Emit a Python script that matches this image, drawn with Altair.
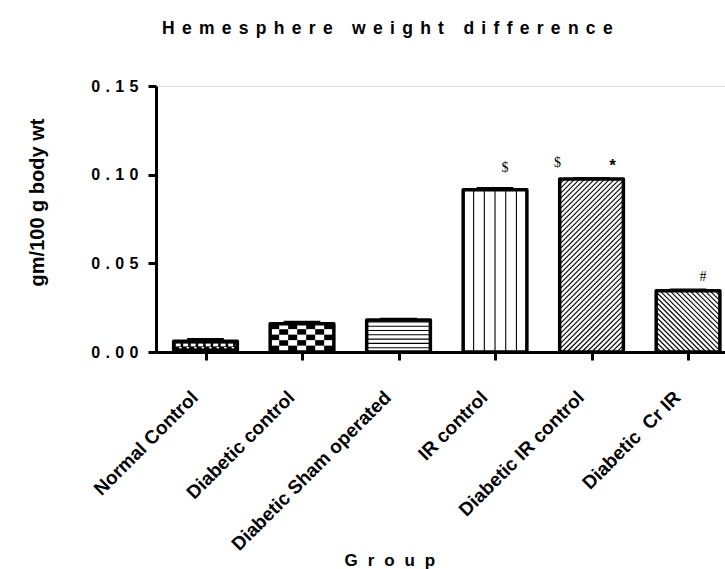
import json
import altair as alt
import pandas as pd

# ---------------- data ----------------
groups = ["Normal Control", "Diabetic control", "Diabetic Sham operated",
          "IR control", "Diabetic IR control", "Diabetic\u00a0 Cr IR"]
means = [0.006, 0.016, 0.018, 0.0915, 0.0975, 0.0345]
sems = [0.0010, 0.0008, 0.0005, 0.0007, 0.0003, 0.0004]
patterns = ["fine_check", "check", "hlines", "vlines", "fdiag", "bdiag"]

sig_symbols = ["$", "$", "*", "#"]
sig_groups = [3, 4, 4, 5]

y_ticks = [0.0, 0.05, 0.10, 0.15]
y_tick_text = ["0.00", "0.05", "0.10", "0.15"]

chart_title = "Hemesphere weight difference"
x_title = "Group"
y_title = "gm/100 g body wt"

# ---------------- layout ----------------
PLOT_W, PLOT_H = 569, 266
X_LO, X_HI = -0.513, 5.383
Y_HI = 0.15
PX_X = PLOT_W / (X_HI - X_LO)      # pixels per group slot
PX_Y = PLOT_H / Y_HI               # pixels per unit of y
HALF = 0.33                        # half bar width, in group slots
CAP = 0.19                         # half error-cap width
FONT = "Liberation Sans"
EN = "\u2002"
QUARTER = "\u2005"
SIXTH = "\u2006"
HAIR = "\u200a"

# annotation offsets (pixels) relative to the top of the bar they flag
sig_offsets = [(10, 22), (-34, 16), (21, 13), (15, 14)]


def spaced(text, gap):
    return gap.join(list(text))


# ---------------- bar fill textures ----------------
def bar_texture(i, kind, top):
    """Line segments and small rects that fill bar i, in data units."""
    segs, cells = [], []
    wb = 2 * HALF * PX_X
    t = top * PX_Y
    x0 = i - HALF

    def seg(u1, v1, u2, v2):
        segs.append({"x": x0 + u1 / PX_X, "x2": x0 + u2 / PX_X,
                     "y": v1 / PX_Y, "y2": v2 / PX_Y})

    def cell(u1, v1, u2, v2, fill):
        u1, u2 = max(0, u1), min(wb, u2)
        v1, v2 = max(0, v1), min(t, v2)
        if u2 > u1 and v2 > v1:
            cells.append({"x": x0 + u1 / PX_X, "x2": x0 + u2 / PX_X,
                          "y": v1 / PX_Y, "y2": v2 / PX_Y, "fill": fill})

    if kind == "vlines":
        for k in range(-2, 3):
            u = wb / 2 + k * 10.7
            seg(u, 0, u, t)
    elif kind == "hlines":
        v = 4.3
        while v < t - 1:
            seg(0, v, wb, v)
            v += 4.3
    elif kind == "fdiag":
        c = -t
        while c < wb:
            u1, u2 = max(0, c), min(wb, c + t)
            if u2 > u1:
                seg(u1, u1 - c, u2, u2 - c)
            c += 5.0
    elif kind == "bdiag":
        c = 0.0
        while c < wb + t:
            u1, u2 = max(0, c - t), min(wb, c)
            if u2 > u1:
                seg(u1, c - u1, u2, c - u2)
            c += 5.0
    elif kind == "check":
        cw, ch = 9.0, 5.5
        r = 0
        vt = t
        while vt > 0:
            c = 0
            u = 0.0
            while u < wb:
                if (r + c) % 2 == 0:
                    cell(u, vt - ch, u + cw, vt, "black")
                u += cw
                c += 1
            vt -= ch
            r += 1
    elif kind == "fine_check":
        u = 2.0
        while u < wb:
            cell(u, 5.6, u + 5.0, 8.4, "white")
            cell(u + 3.5, 3.6, u + 6.0, 5.0, "white")
            u += 7.5
    return segs, cells


bars = pd.DataFrame({
    "group": groups,
    "x": [i - HALF for i in range(len(groups))],
    "x2": [i + HALF for i in range(len(groups))],
    "y": [0.0] * len(groups),
    "y2": means,
    "base": ["black" if p == "fine_check" else "white" for p in patterns],
})

caps = pd.DataFrame({
    "x": [i - CAP for i in range(len(groups))],
    "x2": [i + CAP for i in range(len(groups))],
    "y": [m + s for m, s in zip(means, sems)],
})

all_segs, all_cells = [], []
for i, (kind, m) in enumerate(zip(patterns, means)):
    s, c = bar_texture(i, kind, m)
    all_segs += s
    all_cells += c
segs = pd.DataFrame(all_segs)
cells = pd.DataFrame(all_cells)

sig = pd.DataFrame({
    "label": sig_symbols,
    "x": [g + dx / PX_X for g, (dx, dy) in zip(sig_groups, sig_offsets)],
    "y": [means[g] + dy / PX_Y for g, (dx, dy) in zip(sig_groups, sig_offsets)],
})

# ---------------- axes and scales ----------------
x_scale = alt.Scale(domain=[X_LO, X_HI], nice=False, zero=False)
y_scale = alt.Scale(domain=[0, Y_HI], nice=False, zero=False)

x_labels = json.dumps(groups, ensure_ascii=False)
y_labels = json.dumps([spaced(t, QUARTER + HAIR) for t in y_tick_text],
                      ensure_ascii=False)

x_axis = alt.Axis(
    values=list(range(len(groups))),
    labelExpr=f"{x_labels}[round(datum.value)]",
    labelAngle=315, labelAlign="right", labelBaseline="middle",
    labelFont=FONT, labelFontSize=19, labelFontWeight="bold", labelColor="black",
    labelPadding=34, labelOffset=-11, labelOverlap=False, labelFlush=False,
    labelBound=False, labelLimit=0,
    tickSize=8, tickWidth=3, tickColor="black",
    domainWidth=3, domainColor="black", grid=False,
    title=spaced(x_title, EN + HAIR), titleFont=FONT, titleFontSize=17,
    titleFontWeight="bold", titleColor="black",
    titleAnchor="start", titleAlign="left", titleBaseline="alphabetic",
    titleAngle=0, titleX=188, titleY=213,
)
y_axis = alt.Axis(
    values=y_ticks,
    labelExpr=f"{y_labels}[round(datum.value * 20)]",
    labelFont=FONT, labelFontSize=16, labelFontWeight="bold", labelColor="black",
    labelPadding=10, labelOverlap=False, labelFlush=False,
    tickSize=8, tickWidth=3, tickColor="black",
    domainWidth=3, domainColor="black", grid=False,
    title=y_title, titleFont=FONT, titleFontSize=20, titleFontWeight="bold",
    titleColor="black", titleAngle=270, titleAlign="center",
    titleBaseline="alphabetic", titleX=-113, titleY=116,
)


def X(field="x"):
    return alt.X(f"{field}:Q", scale=x_scale, axis=x_axis)


def Y(field="y"):
    return alt.Y(f"{field}:Q", scale=y_scale, axis=y_axis)


# ---------------- marks ----------------
base_fill = alt.Chart(bars).mark_rect().encode(
    x=X(), x2="x2:Q", y=Y(), y2="y2:Q",
    fill=alt.Fill("base:N", scale=None),
)

texture_cells = alt.Chart(cells).mark_rect().encode(
    x=X(), x2="x2:Q", y=Y(), y2="y2:Q",
    fill=alt.Fill("fill:N", scale=None),
)

texture_lines = alt.Chart(segs).mark_rule(color="black", strokeWidth=1.1).encode(
    x=X(), x2="x2:Q", y=Y(), y2="y2:Q",
)

outline = alt.Chart(bars).mark_rect(
    fillOpacity=0, stroke="black", strokeWidth=3.5, strokeJoin="round"
).encode(x=X(), x2="x2:Q", y=Y(), y2="y2:Q")

err_caps = alt.Chart(caps).mark_rule(color="black", strokeWidth=3).encode(
    x=X(), x2="x2:Q", y=Y(),
)

sig_serif = alt.Chart(sig).transform_filter("datum.label != '*'").mark_text(
    font="Liberation Serif", fontSize=14, color="black",
    align="center", baseline="middle",
).encode(x=X(), y=Y(), text="label:N")

sig_star = alt.Chart(sig).transform_filter("datum.label == '*'").mark_text(
    font=FONT, fontSize=17, fontWeight="bold", color="black",
    align="center", baseline="middle",
).encode(x=X(), y=Y(), text="label:N")

chart = alt.layer(
    base_fill, texture_cells, texture_lines, outline, err_caps, sig_serif, sig_star
).properties(
    width=PLOT_W, height=PLOT_H,
    title=alt.TitleParams(
        text=spaced(chart_title, QUARTER + SIXTH), font=FONT, fontSize=17.5,
        fontWeight="bold", color="black", anchor="start", frame="group",
        dx=6, offset=27, baseline="alphabetic",
    ),
    autosize=alt.AutoSizeParams(type="none"),
    padding={"left": 156, "top": 86, "right": 0, "bottom": 217},
).configure_view(stroke=None).configure(background="white")

chart.save("out.html", embed_options={"renderer": "svg", "actions": False})
